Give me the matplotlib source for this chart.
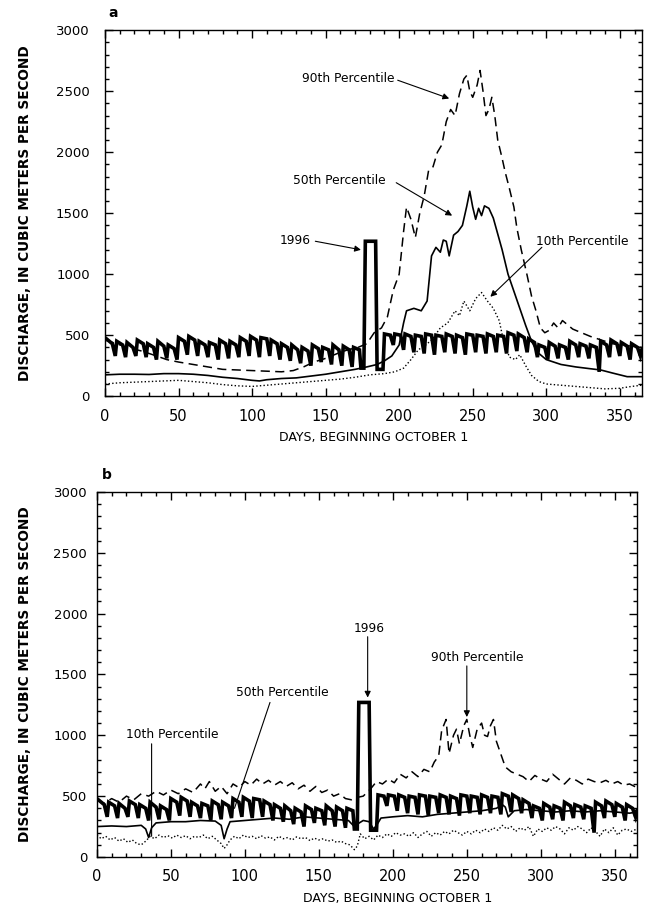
import matplotlib
matplotlib.use('Agg')
import matplotlib.pyplot as plt
from matplotlib.ticker import MultipleLocator

plt.rcParams['font.family'] = ['DejaVu Sans']

# 1996 daily discharge (same record drawn in both panels), read as weekly highs and weekend lows
days_1996 = [0, 1, 5, 7, 8, 12, 14, 15, 19, 21, 22, 26, 28, 29, 33, 35, 36, 40, 42, 43, 47, 49,
             50, 54, 56, 57, 61, 63, 64, 68, 70, 71, 75, 77, 78, 82, 84, 85, 89, 91, 92, 96, 98,
             99, 103, 105, 106, 110, 112, 113, 117, 119, 120, 124, 126, 127, 131, 133, 134, 138, 140,
             141, 145, 147, 148, 152, 154, 155, 159, 161, 162, 166, 168, 169, 173,
             174, 176, 177, 184, 185, 189,
             190, 194, 196, 197, 201, 203, 204, 208, 210, 211, 215, 217, 218, 222, 224, 225, 229, 231,
             232, 236, 238, 239, 243, 245, 246, 250, 252, 253, 257, 259, 260, 264, 266, 267, 271, 273,
             274, 278, 280, 281, 285, 287, 288, 292, 294, 295, 299, 301, 302, 306, 308, 309, 313, 315,
             316, 320, 322, 323, 327, 329, 330, 334, 336, 337, 341, 343, 344, 348, 350, 351, 355, 357,
             358, 362, 364, 365]
q_1996 = [480, 470, 430, 330, 450, 420, 320, 440, 400, 330, 460, 430, 320, 430, 400, 300, 450, 410, 310, 420, 390, 300,
          480, 450, 340, 490, 460, 330, 450, 420, 320, 440, 420, 300, 460, 430, 310, 450, 420, 320, 480, 450, 330,
          490, 460, 320, 480, 470, 330, 460, 430, 300, 430, 400, 290, 420, 380, 270, 400, 370, 250,
          420, 390, 280, 400, 380, 260, 420, 380, 250, 410, 380, 240, 400, 380,
          230, 230, 1270, 1270, 220, 220,
          510, 500, 420, 510, 500, 380, 510, 490, 360, 500, 490, 350, 510, 500, 340, 500, 490, 360,
          510, 490, 350, 500, 480, 340, 510, 500, 360, 500, 490, 350, 510, 490, 360, 500, 490, 350,
          520, 500, 370, 510, 480, 360, 470, 440, 320, 420, 400, 300, 440, 410, 310, 420, 400, 300,
          450, 420, 320, 430, 410, 310, 420, 400, 200, 450, 420, 320, 460, 430, 330, 440, 410, 300,
          430, 400, 330, 380]

# panel a percentiles
days_a10 = [0, 10, 20, 30, 40, 50, 60, 70, 80, 90, 100, 110, 120, 130, 140, 150, 160, 170, 180, 190,
            197, 203, 208, 213, 218, 222, 228, 233, 238, 241, 244, 248, 252, 256, 260, 264, 268, 271,
            275, 279, 282, 286, 290, 295, 300, 310, 320, 330, 340, 350, 358, 365]
q_a10 = [100, 110, 115, 120, 125, 130, 120, 110, 95, 85, 80, 90, 100, 110, 120, 130, 140, 155, 175, 185,
         200, 230, 300, 380, 420, 460, 560, 600, 700, 660, 780, 700, 800, 850, 780, 720, 620, 450,
         320, 300, 340, 250, 170, 120, 100, 90, 80, 70, 60, 65, 80, 90]

days_a50 = [0, 10, 20, 30, 40, 50, 60, 70, 80, 90, 100, 105, 110, 120, 130, 140, 150, 160, 170, 178,
            185, 190, 195, 200, 203, 205, 210, 215, 219, 222, 225, 228, 230, 232, 234, 237, 240, 243,
            246, 248, 250, 252, 254, 256, 258, 261, 264, 267, 270, 274, 278, 282, 286, 290, 294, 300,
            310, 320, 330, 337, 345, 355, 365]
q_a50 = [175, 180, 180, 178, 185, 185, 180, 170, 155, 145, 130, 125, 135, 145, 150, 165, 180, 200, 220, 240,
         260, 290, 330, 420, 600, 700, 720, 700, 780, 1150, 1220, 1180, 1280, 1270, 1150, 1320, 1350, 1400,
         1560, 1680, 1550, 1450, 1540, 1480, 1560, 1540, 1460, 1330, 1200, 1000, 860, 720, 580, 450, 360, 300,
         260, 240, 225, 215, 190, 160, 160]

days_a90 = [0, 8, 15, 25, 35, 42, 50, 60, 70, 80, 90, 100, 110, 120, 128, 135, 142, 150, 158, 165,
            172, 178, 183, 188, 192, 196, 200, 203, 205, 208, 211, 214, 217, 220, 223, 226, 229, 232,
            235, 238, 241, 244, 246, 248, 250, 253, 255, 257, 259, 261, 263, 265, 267, 270, 272, 275,
            278, 280, 283, 287, 290, 293, 296, 299, 302, 305, 308, 311, 314, 318, 322, 326, 330, 335,
            340, 345, 350, 358, 365]
q_a90 = [460, 430, 400, 370, 330, 300, 280, 260, 240, 220, 215, 210, 205, 200, 210, 240, 280, 310, 350, 380,
         400, 430, 520, 560, 650, 870, 1000, 1350, 1550, 1450, 1300, 1500, 1640, 1850, 1880, 2000, 2060, 2250,
         2350, 2300, 2480, 2600, 2630, 2500, 2450, 2550, 2670, 2500, 2300, 2350, 2450, 2300, 2100, 1950, 1840, 1700,
         1550, 1380, 1200, 990, 820, 700, 560, 520, 540, 600, 560, 620, 590, 550, 530, 510, 490, 470,
         450, 430, 420, 410, 400]

# panel b percentiles
days_b10 = [0, 3, 6, 9, 12, 15, 18, 21, 24, 27, 30, 33, 36, 39, 42, 45, 48, 51, 54, 57, 60, 63, 66, 69,
            72, 75, 78, 81, 84, 86, 88, 90, 93, 96, 99, 102, 105, 108, 111, 114, 117, 120, 123, 126,
            129, 132, 135, 138, 141, 144, 147, 150, 153, 156, 159, 162, 165, 168, 171, 174, 176, 178,
            181, 184, 187, 190, 193, 196, 199, 202, 205, 208, 211, 214, 217, 220, 223, 226, 229, 232,
            235, 238, 241, 244, 247, 250, 253, 256, 259, 262, 265, 268, 271, 274, 277, 280, 283, 286,
            289, 292, 295, 298, 301, 304, 307, 310, 313, 316, 319, 322, 325, 328, 331, 334, 337, 340,
            343, 346, 349, 352, 355, 358, 361, 365]
q_b10 = [180, 150, 170, 140, 160, 130, 150, 120, 140, 110, 100, 130, 170, 150, 180, 160, 175, 155, 180, 160,
         175, 150, 170, 160, 180, 150, 170, 140, 110, 70, 100, 140, 170, 150, 180, 160, 170, 150, 175, 155,
         165, 140, 170, 150, 160, 140, 165, 150, 160, 135, 155, 140, 150, 130, 140, 120, 130, 110, 100, 60,
         90, 190, 150, 170, 140, 180, 160, 190, 170, 200, 180, 190, 170, 200, 160, 190, 210, 170, 200, 180,
         210, 190, 220, 200, 180, 210, 190, 220, 200, 230, 210, 240, 220, 260, 230, 250, 210, 240, 220, 250,
         170, 230, 210, 240, 220, 250, 230, 190, 240, 220, 250, 230, 200, 240, 210, 170, 230, 200, 240, 180,
         220, 230, 210, 230]

days_b50 = [0, 10, 20, 30, 33, 35, 37, 40, 50, 60, 70, 80, 84, 86, 88, 90, 100, 110, 120, 130, 140, 150,
            160, 170, 174, 176, 180, 184, 187, 189, 192, 200, 210, 220, 230, 240, 250, 260, 270, 274, 276,
            278, 282, 290, 300, 310, 320, 330, 340, 350, 360, 365]
q_b50 = [250, 255, 250, 260, 230, 160, 240, 280, 290, 290, 300, 295, 260, 150, 230, 290, 300, 310, 320, 310,
         330, 320, 310, 300, 250, 270, 300, 290, 230, 260, 320, 330, 340, 330, 350, 360, 370, 380, 400, 430,
         410, 330, 380, 390, 380, 370, 380, 370, 380, 370, 360, 370]

days_b90 = [0, 5, 10, 15, 20, 25, 30, 35, 40, 45, 50, 55, 60, 65, 70, 73, 76, 80, 84, 88, 92, 96, 100,
            104, 108, 112, 116, 120, 124, 128, 132, 136, 140, 144, 148, 152, 156, 160, 164, 168, 172, 176,
            180, 185, 189, 193, 197, 201, 205, 209, 213, 217, 221, 225, 228, 231, 233, 236, 238, 241, 243,
            245, 248, 250, 252, 254, 257, 260, 262, 264, 266, 268, 270, 272, 276, 280, 284, 288, 292, 296,
            300, 304, 308, 312, 316, 320, 324, 328, 332, 336, 340, 344, 348, 352, 356, 360, 365]
q_b90 = [470, 440, 480, 450, 500, 470, 520, 500, 540, 510, 550, 520, 560, 530, 600, 560, 620, 540, 580, 520,
         600, 570, 620, 590, 640, 600, 630, 590, 620, 580, 610, 560, 590, 540, 580, 530, 550, 500, 520, 480,
         470, 490, 500, 560, 620, 600, 640, 610, 680, 650, 700, 660, 720, 700, 780, 830, 1040, 1130, 850, 1000,
         1050, 930, 1080, 1130, 1000, 900, 1050, 1100, 1000, 990, 1080, 1130, 950, 880, 740, 700, 680, 660, 620,
         670, 640, 620, 680, 640, 600, 650, 630, 600, 640, 620, 610, 630, 600, 620, 590, 600, 570]

panels = [
    dict(ax_rect=[0.1615, 0.567, 0.826, 0.400], tag='a', tag_xy=(0.166, 0.986),
         p10=(days_a10, q_a10), p50=(days_a50, q_a50), p90=(days_a90, q_a90),
         ypad=11, xlab_x=0.5),
    dict(ax_rect=[0.149, 0.0634, 0.831, 0.399], tag='b', tag_xy=(0.157, 0.481),
         p10=(days_b10, q_b10), p50=(days_b50, q_b50), p90=(days_b90, q_b90),
         ypad=7, xlab_x=0.557),
]

fig = plt.figure(figsize=(6.5, 9.15), dpi=100)
axes = []
for p in panels:
    ax = fig.add_axes(p['ax_rect'])
    ax.plot(*p['p10'], color='black', lw=1.0, linestyle=(0, (1, 1.6)))
    ax.plot(*p['p90'], color='black', lw=1.1, linestyle=(0, (6, 3.5)))
    ax.plot(*p['p50'], color='black', lw=1.2)
    ax.plot(days_1996, q_1996, color='black', lw=2.6, solid_joinstyle='miter')

    ax.set_xlim(0, 365)
    ax.set_ylim(0, 3000)
    ax.xaxis.set_major_locator(MultipleLocator(50))
    ax.xaxis.set_minor_locator(MultipleLocator(10))
    ax.yaxis.set_major_locator(MultipleLocator(500))
    ax.yaxis.set_minor_locator(MultipleLocator(100))
    ax.tick_params(which='both', direction='in', top=True, right=True, width=1)
    ax.tick_params(which='major', length=6)
    ax.tick_params(which='minor', length=3)
    ax.tick_params(axis='x', labelsize=10.5, pad=9)
    ax.tick_params(axis='y', labelsize=9.5, pad=p['ypad'])
    for s in ax.spines.values():
        s.set_linewidth(1.0)
    ax.set_xlabel('DAYS, BEGINNING OCTOBER 1', fontsize=9, labelpad=6)
    ax.xaxis.set_label_coords(p['xlab_x'], -0.095)
    fig.text(p['tag_xy'][0], p['tag_xy'][1], p['tag'], fontsize=10, fontweight='bold',
             ha='left', va='center')
    y_mid = p['ax_rect'][1] + p['ax_rect'][3] / 2
    fig.text(0.038, y_mid, 'DISCHARGE, IN CUBIC METERS PER SECOND', rotation=90,
             fontsize=9.8, fontweight='bold', ha='center', va='center')
    axes.append(ax)

head = dict(arrowstyle='-|>', color='black', lw=0.8, mutation_scale=9, shrinkA=0, shrinkB=0)
plain = dict(arrowstyle='-', color='black', lw=0.8, shrinkA=0, shrinkB=0)
afs = 8.8

ax = axes[0]
ax.text(197, 2600, '90th Percentile', fontsize=afs, ha='right', va='center')
ax.annotate('', xy=(234, 2440), xytext=(199, 2590), arrowprops=head)
ax.text(191, 1770, '50th Percentile', fontsize=afs, ha='right', va='center')
ax.annotate('', xy=(236, 1480), xytext=(198, 1750), arrowprops=head)
ax.text(140, 1280, '1996', fontsize=afs, ha='right', va='center')
ax.annotate('', xy=(174, 1200), xytext=(143, 1270), arrowprops=head)
ax.text(293, 1265, '10th Percentile', fontsize=afs, ha='left', va='center')
ax.annotate('', xy=(262, 815), xytext=(297, 1220), arrowprops=head)

ax = axes[1]
ax.text(184, 1880, '1996', fontsize=afs, ha='center', va='center')
ax.annotate('', xy=(183, 1310), xytext=(183, 1810), arrowprops=head)
ax.text(257, 1640, '90th Percentile', fontsize=afs, ha='center', va='center')
ax.annotate('', xy=(250, 1150), xytext=(250, 1570), arrowprops=head)
ax.text(125, 1350, '50th Percentile', fontsize=afs, ha='center', va='center')
ax.annotate('', xy=(93, 400), xytext=(117, 1270), arrowprops=plain)
ax.text(51, 1010, '10th Percentile', fontsize=afs, ha='center', va='center')
ax.annotate('', xy=(37, 170), xytext=(37, 930), arrowprops=plain)

fig.savefig('out.png', dpi=100)
